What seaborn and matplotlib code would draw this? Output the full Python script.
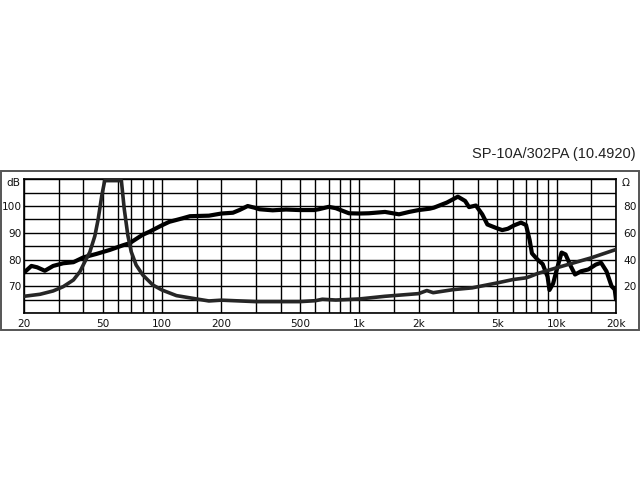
import matplotlib
matplotlib.use('Agg')

import matplotlib.pyplot as plt
import pandas as pd
import seaborn as sns

from matplotlib.patches import Rectangle

# frequency response (dB)
spl_freq = [20, 21.8, 23.3, 25.5, 28.1, 31.6, 35.6, 40, 46.6, 54.5, 63.3, 68.6,
            79.6, 86.5, 100, 109, 127, 138.7, 154, 173, 200, 229, 247, 272,
            294, 312, 364, 425, 496, 590, 623, 700, 760, 886, 1000, 1120,
            1350, 1590, 1790, 2000, 2270, 2390, 2780, 3160, 3440, 3600, 3900,
            4200, 4460, 4900, 5300, 5660, 6100, 6600, 7000, 7300, 7500, 8000,
            8500, 9000, 9200, 9600, 10000, 10600, 11100, 11800, 12400, 13300,
            14500, 15800, 16800, 17900, 19000, 19700, 20000]
spl_db = [75.1, 77.6, 77.1, 75.8, 77.6, 78.6, 79.0, 80.8, 82.1, 83.6, 85.3, 86.1,
          89.2, 90.4, 92.8, 94.1, 95.4, 96.2, 96.3, 96.4, 97.2, 97.5, 98.5, 100.0,
          99.4, 98.8, 98.4, 98.7, 98.5, 98.5, 98.8, 99.7, 99.2, 97.3, 97.2, 97.3,
          97.8, 96.9, 97.8, 98.5, 99.0, 99.4, 101.3, 103.5, 101.9, 99.6, 100.2,
          96.9, 93.1, 91.9, 91.0, 91.5, 92.8, 93.8, 92.9, 87.3, 82.3, 80.0,
          78.3, 73.6, 68.6, 71.0, 76.0, 82.6, 81.9, 77.5, 74.4, 75.6,
          76.3, 78.1, 78.8, 75.6, 70.0, 68.8, 65.0]

# impedance (ohm), clipped at the top of the chart around resonance
imp_freq = [20, 24.1, 28.1, 31.6, 35.6, 38.4, 40.7, 43.1, 45.7, 47.5, 49.6, 51.3,
            62.3, 64.4, 67.2, 69.9, 74, 80, 90, 100, 118.5, 150, 173, 200,
            300, 500, 600, 650, 760, 1000, 1350, 2000, 2200, 2370, 3000,
            3730, 5000, 6000, 7000, 7300, 8000, 10000, 15000, 20000]
imp_ohm = [12.5, 14.0, 16.5, 19.7, 24.7, 30.9, 38.4, 45.5, 57.5, 70, 88, 99,
           99, 78, 58, 45.8, 35.9, 28.4, 20.9, 17.2, 13.0, 10.5, 9.0, 9.6,
           8.5, 8.5, 9.2, 10.3, 9.7, 10.5, 12.5, 14.5, 16.8, 15.2, 17.5,
           18.8, 22.5, 25.0, 26.3, 27.2, 29.5, 33.8, 41.3, 47.5]

grid_freqs = [20, 30, 40, 50, 60, 70, 80, 90, 100, 150, 200, 300, 400, 500,
              600, 700, 800, 900, 1000, 1500, 2000, 3000, 4000, 5000, 6000,
              7000, 8000, 9000, 10000, 15000, 20000]
freq_labels = {20: '20', 50: '50', 100: '100', 200: '200', 500: '500',
               1000: '1k', 2000: '2k', 5000: '5k', 10000: '10k', 20000: '20k'}
db_ticks = [60, 65, 70, 75, 80, 85, 90, 95, 100, 105, 110]
db_labels = {70: '70', 80: '80', 90: '90', 100: '100'}
ohm_ticks = [20, 40, 60, 80]

title = 'SP-10A/302PA (10.4920)'

sns.set_style('white')
plt.rcParams['font.family'] = ['DejaVu Sans']

fig = plt.figure(figsize=(6.4, 4.8), dpi=100)
ax = fig.add_axes([24 / 640, 167 / 480, 592 / 640, 133.7 / 480])

data_spl = pd.DataFrame({'freq': spl_freq, 'db': spl_db})
data_imp = pd.DataFrame({'freq': imp_freq, 'ohm': imp_ohm})

ax.set_xscale('log')
ax.set_xlim(20, 20000)
ax.set_ylim(60, 110)
ax.set_xticks(grid_freqs)
ax.set_xticklabels([freq_labels.get(f, '') for f in grid_freqs])
ax.minorticks_off()
ax.set_yticks(db_ticks)
ax.set_yticklabels([db_labels.get(d, '') for d in db_ticks])
ax.tick_params(length=0, labelsize=7.6, colors='#111111', pad=1.5)
ax.tick_params(axis='x', pad=4)
ax.grid(True, color='black', linewidth=1.0)
ax.set_axisbelow(True)
for spine in ax.spines.values():
    spine.set_color('black')
    spine.set_linewidth(1.2)

sns.lineplot(data=data_spl, x='freq', y='db', ax=ax, color='black',
             linewidth=3.0, sort=False)
ax.set_xlabel('')
ax.set_ylabel('')

ax2 = ax.twinx()
ax2.set_ylim(0, 100)
sns.lineplot(data=data_imp, x='freq', y='ohm', ax=ax2, color='#262626',
             linewidth=2.6, sort=False)
ax2.set_yticks(ohm_ticks)
ax2.set_yticklabels([str(o) for o in ohm_ticks])
ax2.tick_params(length=0, labelsize=7.6, colors='#111111', pad=5)
ax2.grid(False)
ax2.set_xlabel('')
ax2.set_ylabel('')
for spine in ax2.spines.values():
    spine.set_visible(False)

fig.text(20.5 / 640, 1 - 183.5 / 480, 'dB', ha='right', va='center',
         fontsize=7.6, color='#111111')
fig.text(622 / 640, 1 - 183.5 / 480, 'Ω', ha='left', va='center',
         fontsize=7.6, color='#111111')

fig.patches.append(Rectangle((1 / 640, 150 / 480), 637.5 / 640, 159 / 480,
                             transform=fig.transFigure, fill=False,
                             edgecolor='#555555', linewidth=1.4))

fig.text(636 / 640, 1 - 154 / 480, title, ha='right', va='center',
         fontsize=10.5, family=['Liberation Sans', 'DejaVu Sans'],
         color='#222222')

plt.savefig('out.png', dpi=100)
plt.close()
